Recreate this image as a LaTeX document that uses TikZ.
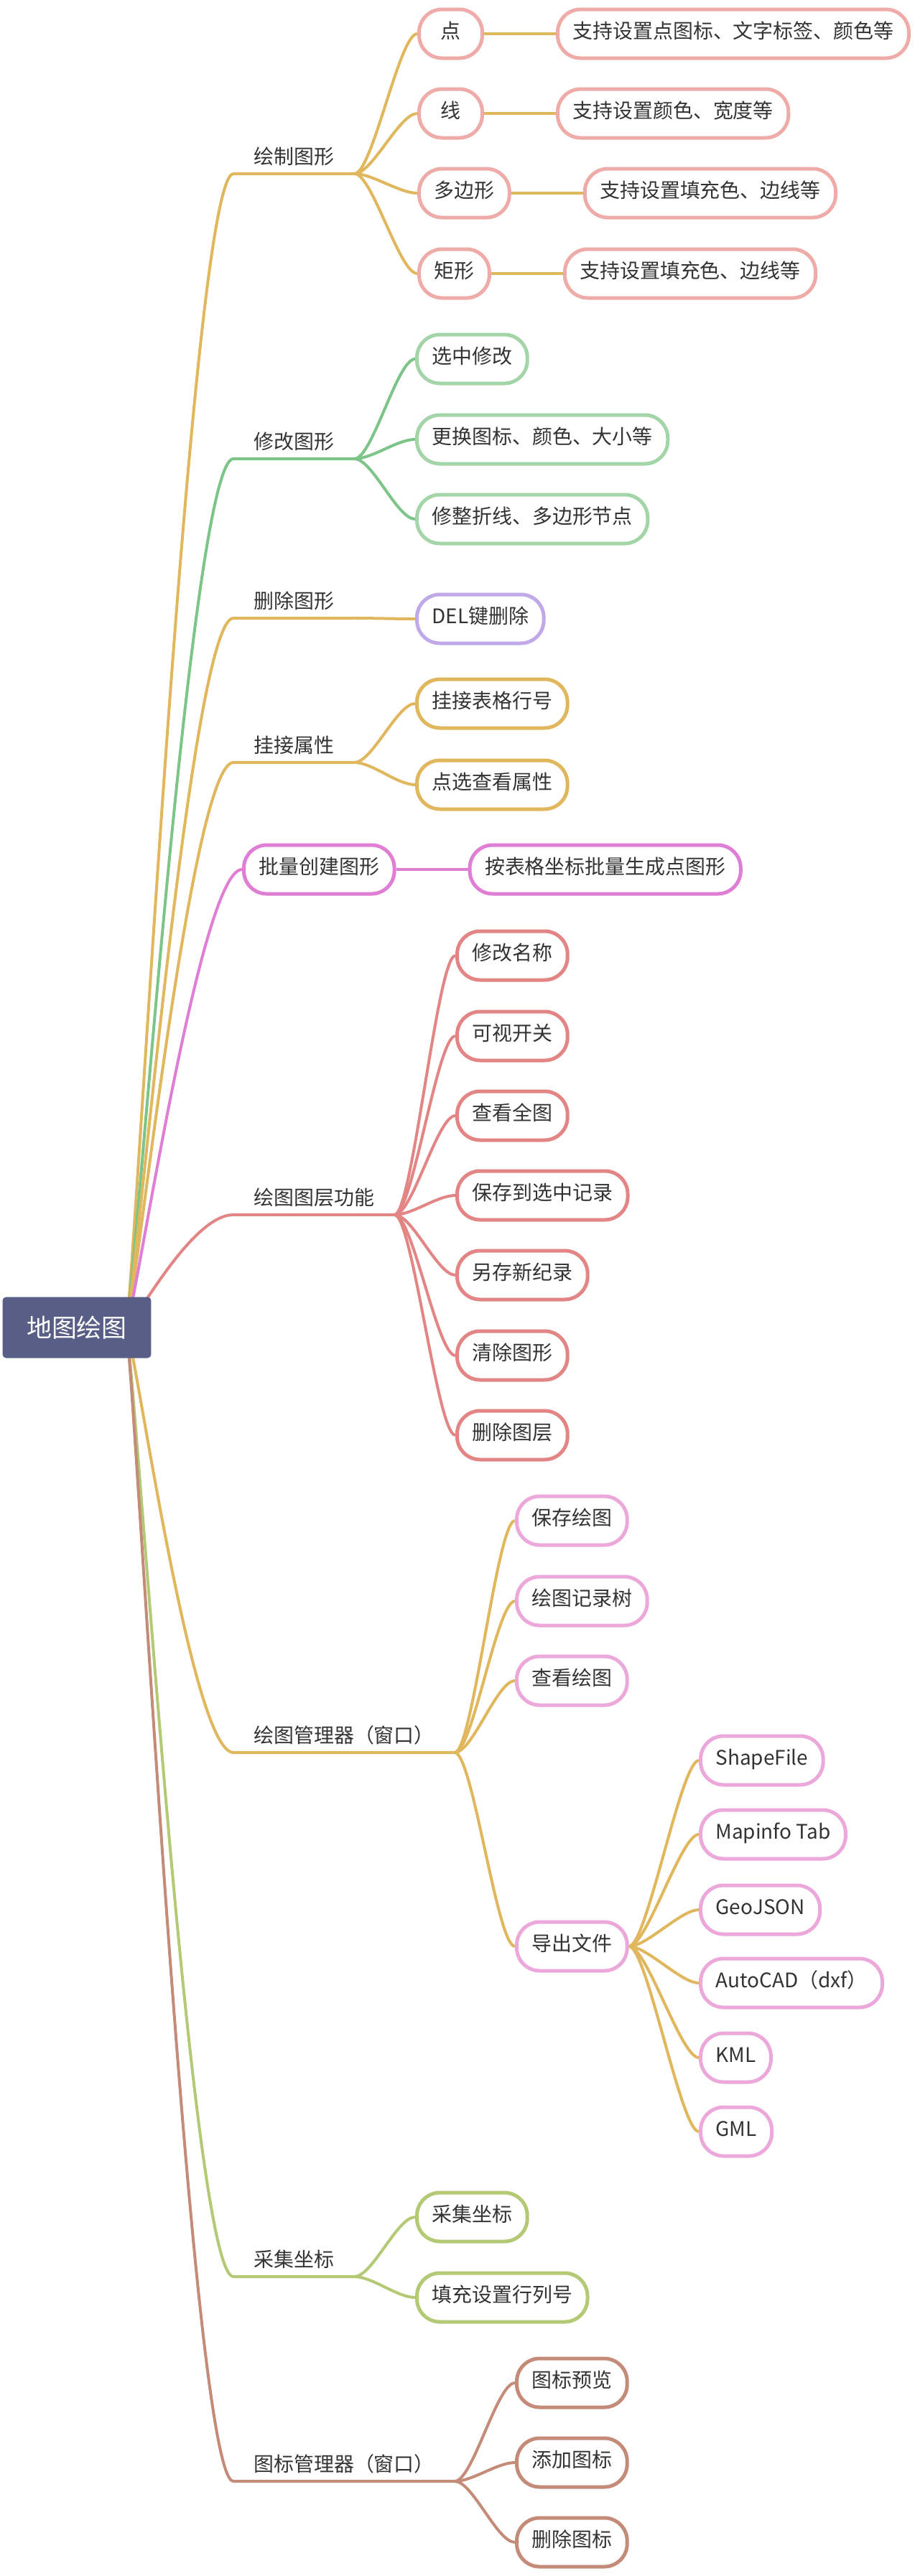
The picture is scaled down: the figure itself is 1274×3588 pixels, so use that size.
\documentclass[tikz,border=0pt]{standalone}
\usepackage{fontspec}
\setmainfont{Noto Sans CJK SC}
\usetikzlibrary{positioning,backgrounds}

\definecolor{rootblue}{HTML}{585E86}
\definecolor{inkgray}{HTML}{333333}
\definecolor{gold}{HTML}{E0B75C}
\definecolor{rosepink}{HTML}{EEABA8}
\definecolor{leafgreen}{HTML}{7DC488}
\definecolor{palegreen}{HTML}{A4D5A8}
\definecolor{lavender}{HTML}{BFA9E8}
\definecolor{orchid}{HTML}{E07ED6}
\definecolor{coral}{HTML}{E28584}
\definecolor{candy}{HTML}{ECA8DA}
\definecolor{grassgreen}{HTML}{B4C974}
\definecolor{clay}{HTML}{C58B79}
\newcommand{\leaffont}{\fontsize{15.9pt}{19pt}\selectfont}
\newcommand{\rootfont}{\fontsize{19.9pt}{24pt}\selectfont}

\begin{document}
\begin{tikzpicture}[
		x=0.02cm, y=-0.02cm,
		root/.style={fill=rootblue, rounded corners=1mm, text=white, font=\rootfont, minimum width=4.14cm, minimum height=1.7cm, inner sep=0pt},
		branch/.style={anchor=south west, inner xsep=5.6mm, inner ysep=2.6mm, text depth=0pt, font=\leaffont, text=inkgray},
		topic/.style={draw=#1, line width=1mm, rounded corners=6.4mm, fill=white, anchor=west, minimum height=13.6mm, minimum width=17.6mm, inner xsep=4.2mm, text height=0.84em, text depth=0.1em, font=\leaffont, text=inkgray},
		link/.style={draw=#1, line width=0.8mm},
		twig/.style={to path={.. controls +(25,0) and +(-25,0) .. (\tikztotarget)}},
		trunk/.style={to path={.. controls +(10,0) and +(-60,0) .. (\tikztotarget)}}
		]
		\useasboundingbox (0,0) rectangle (1274,3588);
		
		% --------------------------------------------------
		% Root
		% --------------------------------------------------
		\node[root] (root) at (107,1849) {地图绘图};
		\coordinate (hub) at (175,1849);
		
		% --------------------------------------------------
		% 绘制图形
		% --------------------------------------------------
		\node[branch] (draw) at (325,242) {绘制图形};
		\node[topic=rosepink] (point) at (581,47) {点};
		\node[topic=rosepink] (line) at (581,158) {线};
		\node[topic=rosepink] (polygon) at (581,269) {多边形};
		\node[topic=rosepink] (rect) at (581,381) {矩形};
		\node[topic=rosepink, right=2cm of point] (pointtip) {支持设置点图标、文字标签、颜色等};
		\node[topic=rosepink, right=2cm of line] (linetip) {支持设置颜色、宽度等};
		\node[topic=rosepink, right=2cm of polygon] (polytip) {支持设置填充色、边线等};
		\node[topic=rosepink, right=2cm of rect] (recttip) {支持设置填充色、边线等};
		
		% --------------------------------------------------
		% 修改图形 / 删除图形 / 挂接属性
		% --------------------------------------------------
		\node[branch] (edit) at (325,639) {修改图形};
		\node[topic=palegreen] (select) at (578,500) {选中修改};
		\node[topic=palegreen] (restyle) at (578,612) {更换图标、颜色、大小等};
		\node[topic=palegreen] (reshape) at (578,723) {修整折线、多边形节点};
		
		\node[branch] (erase) at (325,861) {删除图形};
		\node[topic=lavender] (delkey) at (578,862) {DEL键删除};
		
		\node[branch] (attach) at (325,1062) {挂接属性};
		\node[topic=gold] (rowid) at (578,980) {挂接表格行号};
		\node[topic=gold] (pick) at (578,1093) {点选查看属性};
		
		% --------------------------------------------------
		% 批量创建图形
		% --------------------------------------------------
		\node[topic=orchid] (batch) at (337,1211) {批量创建图形};
		\node[topic=orchid, right=2cm of batch] (batchtip) {按表格坐标批量生成点图形};
		
		% --------------------------------------------------
		% 绘图图层功能
		% --------------------------------------------------
		\node[branch] (layer) at (325,1692) {绘图图层功能};
		\node[topic=coral] (rename) at (634,1331) {修改名称};
		\node[topic=coral] (visible) at (634,1443) {可视开关};
		\node[topic=coral] (fullview) at (634,1554) {查看全图};
		\node[topic=coral] (saveto) at (634,1665) {保存到选中记录};
		\node[topic=coral] (saveas) at (634,1776) {另存新纪录};
		\node[topic=coral] (clear) at (634,1888) {清除图形};
		\node[topic=coral] (droplayer) at (634,1999) {删除图层};
		
		% --------------------------------------------------
		% 绘图管理器
		% --------------------------------------------------
		\node[branch] (manager) at (325,2441) {绘图管理器（窗口）};
		\node[topic=candy] (save) at (717,2118) {保存绘图};
		\node[topic=candy] (tree) at (717,2230) {绘图记录树};
		\node[topic=candy] (view) at (717,2341) {查看绘图};
		\node[topic=candy] (export) at (717,2711) {导出文件};
		\node[topic=candy] (shp) at (973,2452) {ShapeFile};
		\node[topic=candy] (tab) at (973,2555) {Mapinfo Tab};
		\node[topic=candy] (geojson) at (973,2660) {GeoJSON};
		\node[topic=candy] (dxf) at (973,2762) {AutoCAD（dxf）};
		\node[topic=candy] (kml) at (973,2866) {KML};
		\node[topic=candy] (gml) at (973,2969) {GML};
		
		% --------------------------------------------------
		% 采集坐标 / 图标管理器
		% --------------------------------------------------
		\node[branch] (collect) at (325,3171) {采集坐标};
		\node[topic=grassgreen] (coords) at (578,3088) {采集坐标};
		\node[topic=grassgreen] (fill) at (578,3200) {填充设置行列号};
		
		\node[branch] (icons) at (325,3456) {图标管理器（窗口）};
		\node[topic=clay] (preview) at (717,3319) {图标预览};
		\node[topic=clay] (addicon) at (717,3430) {添加图标};
		\node[topic=clay] (delicon) at (717,3541) {删除图标};
		
		% --------------------------------------------------
		% Connectors
		% --------------------------------------------------
		\begin{scope}[on background layer]
			% root to branches
			\draw[link=gold] (hub) to[trunk] (draw.south west) -- (draw.south east);
			\draw[link=leafgreen] (hub) to[trunk] (edit.south west) -- (edit.south east);
			\draw[link=gold] (hub) to[trunk] (erase.south west) -- (erase.south east);
			\draw[link=gold] (hub) to[trunk] (attach.south west) -- (attach.south east);
			\draw[link=orchid] (hub) to[trunk] (batch.west);
			\draw[link=coral] (hub) to[trunk] (layer.south west) -- (layer.south east);
			\draw[link=gold] (hub) to[trunk] (manager.south west) -- (manager.south east);
			\draw[link=grassgreen] (hub) to[trunk] (collect.south west) -- (collect.south east);
			\draw[link=clay] (hub) to[trunk] (icons.south west) -- (icons.south east);
			
			% 绘制图形
			\draw[link=gold] (draw.south east) to[twig] (point.west);
			\draw[link=gold] (draw.south east) to[twig] (line.west);
			\draw[link=gold] (draw.south east) to[twig] (polygon.west);
			\draw[link=gold] (draw.south east) to[twig] (rect.west);
			\draw[link=gold] (point) -- (pointtip);
			\draw[link=gold] (line) -- (linetip);
			\draw[link=gold] (polygon) -- (polytip);
			\draw[link=gold] (rect) -- (recttip);
			
			% 修改图形 / 删除图形 / 挂接属性
			\draw[link=leafgreen] (edit.south east) to[twig] (select.west);
			\draw[link=leafgreen] (edit.south east) to[twig] (restyle.west);
			\draw[link=leafgreen] (edit.south east) to[twig] (reshape.west);
			\draw[link=gold] (erase.south east) to[twig] (delkey.west);
			\draw[link=gold] (attach.south east) to[twig] (rowid.west);
			\draw[link=gold] (attach.south east) to[twig] (pick.west);
			
			% 批量创建图形
			\draw[link=orchid] (batch) -- (batchtip);
			
			% 绘图图层功能
			\draw[link=coral] (layer.south east) to[twig] (rename.west);
			\draw[link=coral] (layer.south east) to[twig] (visible.west);
			\draw[link=coral] (layer.south east) to[twig] (fullview.west);
			\draw[link=coral] (layer.south east) to[twig] (saveto.west);
			\draw[link=coral] (layer.south east) to[twig] (saveas.west);
			\draw[link=coral] (layer.south east) to[twig] (clear.west);
			\draw[link=coral] (layer.south east) to[twig] (droplayer.west);
			
			% 绘图管理器
			\draw[link=gold] (manager.south east) to[twig] (save.west);
			\draw[link=gold] (manager.south east) to[twig] (tree.west);
			\draw[link=gold] (manager.south east) to[twig] (view.west);
			\draw[link=gold] (manager.south east) to[twig] (export.west);
			\draw[link=gold] (export.east) to[twig] (shp.west);
			\draw[link=gold] (export.east) to[twig] (tab.west);
			\draw[link=gold] (export.east) to[twig] (geojson.west);
			\draw[link=gold] (export.east) to[twig] (dxf.west);
			\draw[link=gold] (export.east) to[twig] (kml.west);
			\draw[link=gold] (export.east) to[twig] (gml.west);
			
			% 采集坐标 / 图标管理器
			\draw[link=grassgreen] (collect.south east) to[twig] (coords.west);
			\draw[link=grassgreen] (collect.south east) to[twig] (fill.west);
			\draw[link=clay] (icons.south east) to[twig] (preview.west);
			\draw[link=clay] (icons.south east) to[twig] (addicon.west);
			\draw[link=clay] (icons.south east) to[twig] (delicon.west);
		\end{scope}
		
	\end{tikzpicture}
\end{document}
